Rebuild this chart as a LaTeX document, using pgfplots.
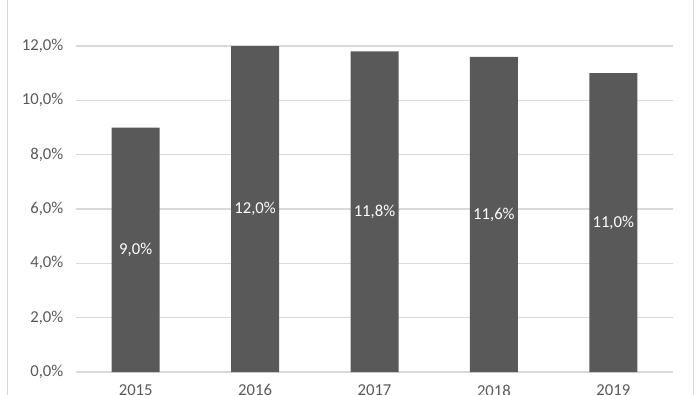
\documentclass[border=0pt]{standalone}
\usepackage{pgfplots}
\pgfplotsset{compat=1.18}
\usepackage{fontspec}
\setmainfont{Carlito}
\definecolor{barc}{HTML}{595959}
\definecolor{gridc}{HTML}{D9D9D9}
\definecolor{txt}{HTML}{595959}
\begin{document}
\begin{tikzpicture}
\useasboundingbox (-57pt,-16.5pt) rectangle (468pt,279pt);
\clip (-57pt,-16.5pt) rectangle (468pt,279pt);
\begin{axis}[
  at={(0,0)}, anchor=south west,
  scale only axis, width=447.75pt, height=244.5pt,
  xmin=-0.5, xmax=4.5, ymin=0, ymax=12,
  axis line style={draw=none},
  major tick length=0pt,
  ytick={0,2,...,12},
  ymajorgrids,
  grid style={gridc, line width=1pt},
  xtick={0,...,4},
  xticklabels={2015,2016,2017,2018,2019},
  /pgf/number format/assume math mode=true,
  yticklabel={\pgfmathprintnumber[fixed, fixed zerofill, precision=1, use comma]{\tick}\%},
  ticklabel style={font=\fontsize{12.5}{15}\selectfont, text=txt},
  yticklabel style={xshift=-6pt},
  xticklabel style={yshift=-6pt},
  ybar, bar width=36pt,
  nodes near coords={\pgfmathprintnumber[fixed, fixed zerofill, precision=1, use comma]{\pgfplotspointmeta}\%},
  visualization depends on={y \as \rawy},
  nodes near coords style={font=\fontsize{12.5}{15}\selectfont, text=white, anchor=center,
     shift={(axis direction cs:0,-\rawy/2)}},
]
\addplot[fill=barc, draw=none] coordinates {(0,9.0) (1,12.0) (2,11.8) (3,11.6) (4,11.0)};
\end{axis}
\draw[gridc, line width=0.75pt] (-51pt,-20pt) -- (-51pt,290pt);
\draw[gridc, line width=0.75pt] (462.75pt,-20pt) -- (462.75pt,290pt);
\end{tikzpicture}
\end{document}
